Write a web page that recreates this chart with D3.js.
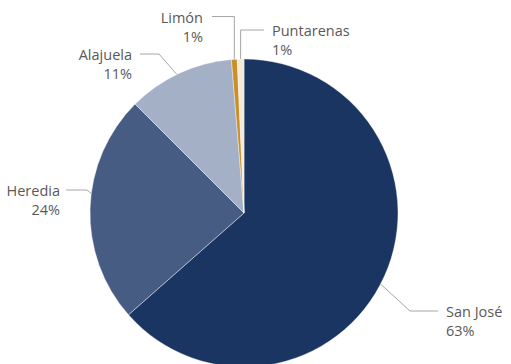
<!DOCTYPE html>
<html>
<head>
<meta charset="utf-8">
<script src="https://cdn.jsdelivr.net/npm/d3@7"></script>
<style>
  html, body { margin: 0; padding: 0; background: #ffffff; }
  svg { display: block; }
</style>
</head>
<body>
<div id="chart"></div>
<script>
// ---- data ----
const categories = ["San José", "Heredia", "Alajuela", "Limón", "Puntarenas"];
const shares = [63.5, 24.0, 11.2, 0.6, 0.7];
const percentLabels = ["63%", "24%", "11%", "1%", "1%"];
const colors = ["#1b3563", "#465c82", "#a4b0c5", "#c98f2c", "#f4ead6"];

// ---- layout (label placement, not data) ----
const W = 511, H = 364;
const cx = 244, cy = 213, R = 154;
const labelLayout = [
  { angleShift: 3.2,  elbow: [410, 311], end: [438, 311], textX: 446, anchor: "start" },
  { angleShift: 5.5,  elbow: [87, 190],  end: [66, 190],  textX: 60,  anchor: "end" },
  { angleShift: -1,   elbow: [159, 54],  end: [140, 54],  textX: 132, anchor: "end" },
  { angleShift: 0,    elbow: null, lineY: 16.5, end: [212, 16.5], textX: 203, anchor: "end" },
  { angleShift: 0,    elbow: null, lineY: 30,   end: [264, 30],   textX: 272, anchor: "start" }
];

const svg = d3.select("#chart").append("svg")
  .attr("width", W).attr("height", H);

const data = categories.map((c, i) => ({ name: c, value: shares[i], label: percentLabels[i], color: colors[i], layout: labelLayout[i] }));

const pie = d3.pie().sort(null).value(d => d.value);
const arcs = pie(data);
const arcGen = d3.arc().innerRadius(0).outerRadius(R);

const g = svg.append("g").attr("transform", `translate(${cx},${cy})`);
g.selectAll("path.slice").data(arcs).enter().append("path")
  .attr("class", "slice")
  .attr("d", arcGen)
  .attr("fill", d => d.data.color)
  .attr("stroke", "#ffffff")
  .attr("stroke-width", 0.4);

const fontFamily = "'Open Sans', Roboto, 'DejaVu Sans', sans-serif";
const lines = svg.append("g");
const texts = svg.append("g");

arcs.forEach(a => {
  const L = a.data.layout;
  const mid = (a.startAngle + a.endAngle) / 2 + L.angleShift * Math.PI / 180;
  const ax = cx + R * Math.sin(mid);
  const ay = cy - R * Math.cos(mid);
  const elbow = L.elbow ? L.elbow : [ax, L.lineY];
  lines.append("polyline")
    .attr("points", [[ax, ay], elbow, L.end].map(p => p.join(",")).join(" "))
    .attr("fill", "none")
    .attr("stroke", "#a6a6a6")
    .attr("stroke-width", 1);
  const t = texts.append("text")
    .attr("x", L.textX)
    .attr("y", L.end[1] + 6)
    .attr("text-anchor", L.anchor)
    .attr("font-family", fontFamily)
    .attr("font-size", 14.5)
    .attr("fill", "#595959");
  t.append("tspan").attr("x", L.textX).text(a.data.name);
  t.append("tspan").attr("x", L.textX).attr("dy", 19).text(a.data.label);
});
</script>
</body>
</html>
